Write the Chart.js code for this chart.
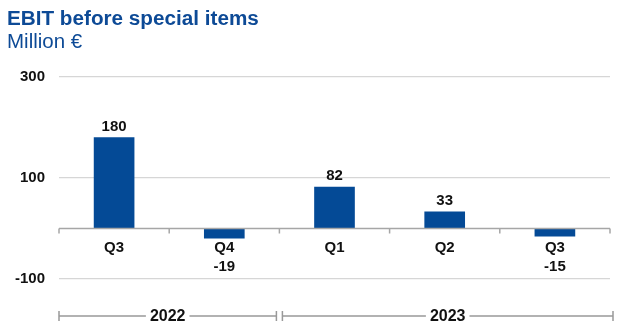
<!DOCTYPE html>
<html>
<head>
<meta charset="utf-8">
<script src="https://cdn.jsdelivr.net/npm/chart.js@4/dist/chart.umd.min.js"></script>
<style>
  html, body { margin: 0; padding: 0; background: #fff; }
  #wrap { position: relative; width: 624px; height: 333px; }
  #title { position: absolute; left: 7px; top: 6px; font: bold 20.7px "Liberation Sans", Arial, sans-serif; color: #0d4a96; }
  #unit { position: absolute; left: 7px; top: 29px; font: 20.5px "Liberation Sans", Arial, sans-serif; color: #0d4a96; }
  canvas { position: absolute; left: 0; top: 0; }
</style>
</head>
<body>
<div id="wrap">
  <canvas id="ebitChart" width="624" height="333"></canvas>
  <div id="title">EBIT before special items</div>
  <div id="unit">Million €</div>
</div>
<script>
const quarters = ["Q3", "Q4", "Q1", "Q2", "Q3"];
const ebit = [180, -19, 82, 33, -15];
const years = ["2022", "2023"];
const yearFirst = [0, 2];
const yearLast = [1, 4];

const FONT = '"Liberation Sans", Arial, sans-serif';
const BLUE = "#044a96";

// === Zero line, quarter labels, values and year brackets ===
const annotations = {
  id: "annotations",
  afterDatasetsDraw(chart) {
    const { ctx, chartArea, scales } = chart;
    const x = scales.x;
    const y = scales.y;
    const y0 = y.getPixelForValue(0);
    const half = (x.getPixelForValue(1) - x.getPixelForValue(0)) / 2;

    ctx.save();
    // zero line with ticks between categories
    ctx.strokeStyle = "#a6a6a6";
    ctx.lineWidth = 1.5;
    ctx.beginPath();
    ctx.moveTo(chartArea.left, y0);
    ctx.lineTo(chartArea.right, y0);
    for (let i = 0; i <= quarters.length; i++) {
      const bx = x.getPixelForValue(0) - half + i * 2 * half;
      ctx.moveTo(bx, y0);
      ctx.lineTo(bx, y0 + 5);
    }
    ctx.stroke();

    ctx.fillStyle = "#111";
    ctx.font = "bold 15px " + FONT;
    ctx.textAlign = "center";
    ctx.textBaseline = "middle";
    quarters.forEach((q, i) => {
      const cx = x.getPixelForValue(i);
      ctx.fillText(q, cx, y0 + 19);
      const v = ebit[i];
      if (v >= 0) {
        ctx.fillText(String(v), cx, y.getPixelForValue(v) - 11);
      } else {
        ctx.fillText(String(v), cx, y0 + 38);
      }
    });

    // year brackets
    const by = 316;
    ctx.font = "bold 16px " + FONT;
    ctx.strokeStyle = "#999";
    ctx.lineWidth = 1.5;
    years.forEach((yr, k) => {
      const left = x.getPixelForValue(yearFirst[k]) - half + (k === 0 ? 0 : 3);
      const right = x.getPixelForValue(yearLast[k]) + half - (k === 0 ? 3 : -3);
      const mid = (left + right) / 2;
      const tw = ctx.measureText(yr).width / 2 + 4;
      ctx.beginPath();
      ctx.moveTo(left, by);
      ctx.lineTo(mid - tw, by);
      ctx.moveTo(mid + tw, by);
      ctx.lineTo(right, by);
      ctx.moveTo(left, by - 5);
      ctx.lineTo(left, by + 5);
      ctx.moveTo(right, by - 5);
      ctx.lineTo(right, by + 5);
      ctx.stroke();
      ctx.fillText(yr, mid, by + 1);
    });
    ctx.restore();
  },
};

new Chart(document.getElementById("ebitChart"), {
  type: "bar",
  data: {
    labels: quarters,
    datasets: [
      {
        data: ebit,
        backgroundColor: BLUE,
        barThickness: 40,
      },
    ],
  },
  options: {
    responsive: false,
    animation: false,
    layout: { padding: { top: 77, bottom: 54, right: 14, left: 0 } },
    plugins: {
      legend: { display: false },
      tooltip: { enabled: false },
    },
    scales: {
      x: { display: false },
      y: {
        min: -100,
        max: 300,
        ticks: {
          stepSize: 200,
          color: "#111",
          padding: 14,
          font: { family: FONT, size: 15, weight: "bold" },
        },
        grid: { color: "#d6d6d6", lineWidth: 1.2, drawTicks: false },
        border: { display: false },
        afterFit(scale) {
          scale.width = 59;
        },
      },
    },
  },
  plugins: [annotations],
});
</script>
</body>
</html>
